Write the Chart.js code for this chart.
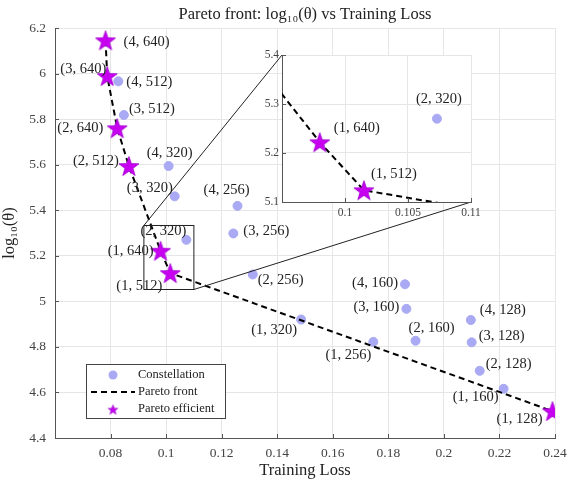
<!DOCTYPE html>
<html>
<head>
<meta charset="utf-8">
<script src="https://cdn.jsdelivr.net/npm/chart.js@4.4.1/dist/chart.umd.min.js"></script>
<style>
    html, body { margin: 0; padding: 0; background: #fff; }
    #wrap { position: relative; width: 569px; height: 481px; }
    #main { position: absolute; left: 0; top: 0; }
    #inset { position: absolute; left: 252px; top: 44px; }
</style>
</head>
<body>
<div id="wrap">
    <canvas id="main" width="569" height="481"></canvas>
    <canvas id="inset" width="230" height="178"></canvas>
</div>
<script>
// (depth, width) configurations that are not on the front
const constNames = ['(4, 512)', '(3, 512)', '(4, 320)', '(3, 320)', '(2, 320)', '(1, 320)',
    '(4, 256)', '(3, 256)', '(2, 256)', '(1, 256)', '(4, 160)', '(3, 160)', '(2, 160)',
    '(1, 160)', '(4, 128)', '(3, 128)', '(2, 128)'];
const constLoss = [0.0828, 0.0848, 0.1009, 0.1031, 0.1073, 0.1486,
    0.1257, 0.1242, 0.1312, 0.1746, 0.1860, 0.1865, 0.1898,
    0.2215, 0.2097, 0.2100, 0.2129];
const constLogTheta = [5.966, 5.818, 5.594, 5.461, 5.270, 4.920,
    5.419, 5.298, 5.118, 4.822, 5.075, 4.967, 4.827,
    4.616, 4.918, 4.820, 4.695];

// pareto efficient configurations, sorted by loss
const paretoNames = ['(4, 640)', '(3, 640)', '(2, 640)', '(2, 512)', '(1, 640)', '(1, 512)', '(1, 128)'];
const paretoLoss = [0.0782, 0.0788, 0.0824, 0.0866, 0.0980, 0.1015, 0.2391];
const paretoLogTheta = [6.146, 5.989, 5.760, 5.594, 5.222, 5.124, 4.518];

const xTicks = [0.08, 0.1, 0.12, 0.14, 0.16, 0.18, 0.2, 0.22, 0.24];
const yTicks = [4.4, 4.6, 4.8, 5, 5.2, 5.4, 5.6, 5.8, 6, 6.2];
const insetXTicks = [0.1, 0.105, 0.11];
const insetYTicks = [5.1, 5.2, 5.3, 5.4];

const FONT = "'Liberation Serif', 'DejaVu Serif', serif";
const DOT = '#a9a9f4';
const STAR = '#c800f0';

// where each label sits: anchor (l/r/c), dx, dy from its point
const mainPlace = {
    '(4, 640)': ['l', 18, 2], '(3, 640)': ['r', -1, -7], '(4, 512)': ['l', 8, 1],
    '(3, 512)': ['l', 5, -6], '(2, 640)': ['r', -14, 0], '(2, 512)': ['r', -10, -5],
    '(4, 320)': ['c', 1, -13], '(3, 320)': ['r', -2, -8], '(4, 256)': ['c', -11, -16],
    '(3, 256)': ['l', 10, -2], '(2, 320)': ['r', 0, -9], '(1, 640)': ['r', -7, 0],
    '(1, 512)': ['r', -8, 13], '(2, 256)': ['l', 5, 6], '(1, 320)': ['c', -27, 11],
    '(4, 160)': ['r', -7, -1], '(3, 160)': ['r', -7, -2], '(2, 160)': ['c', 16, -13],
    '(1, 256)': ['r', -2, 13], '(4, 128)': ['l', 9, -10], '(3, 128)': ['l', 7, -6],
    '(2, 128)': ['l', 6, -7], '(1, 160)': ['r', -5, 8], '(1, 128)': ['r', -10, 8]
};
const insetPlace = {
    '(2, 320)': ['c', 2, -20], '(1, 640)': ['l', 14, -14], '(1, 512)': ['l', 7, -16]
};

const zoomBox = { x: [0.092, 0.110], y: [5.052, 5.333] };

function makeStar(r) {
    const c = document.createElement('canvas');
    const s = Math.ceil(r * 2 + 3);
    c.width = s; c.height = s;
    const g = c.getContext('2d');
    g.beginPath();
    for (let k = 0; k < 10; k++) {
        const rad = k % 2 ? r * 0.4 : r;
        const a = -Math.PI / 2 + k * Math.PI / 5;
        g.lineTo(s / 2 + rad * Math.cos(a), s / 2 + 1 + rad * Math.sin(a));
    }
    g.closePath();
    g.fillStyle = STAR;
    g.fill();
    g.strokeStyle = '#a000d0';
    g.lineWidth = 0.8;
    g.stroke();
    return c;
}
const bigStar = makeStar(10.5);
const smallStar = makeStar(5);

function datasets() {
    const pareto = paretoLoss.map((x, i) => ({ x, y: paretoLogTheta[i] }));
    return [
        { data: pareto, names: paretoNames, pointStyle: bigStar, pointRadius: 10 },
        { data: pareto, showLine: true, borderColor: '#000', borderWidth: 2,
          borderDash: [6, 4], pointRadius: 0 },
        { data: constLoss.map((x, i) => ({ x, y: constLogTheta[i] })), names: constNames,
          pointStyle: 'circle', pointRadius: 4.5, backgroundColor: DOT, borderColor: DOT }
    ];
}

function labelPlugin(place) {
    return {
        id: 'pointLabels',
        afterDatasetsDraw(chart) {
            const ctx = chart.ctx;
            ctx.save();
            ctx.font = '14.5px ' + FONT;
            ctx.fillStyle = '#222';
            ctx.textBaseline = 'middle';
            chart.data.datasets.forEach((ds, i) => {
                if (!ds.names) return;
                chart.getDatasetMeta(i).data.forEach((pt, j) => {
                    const p = place[ds.names[j]];
                    if (!p) return;
                    ctx.textAlign = { l: 'left', r: 'right', c: 'center' }[p[0]];
                    ctx.fillText(ds.names[j], pt.x + p[1], pt.y + p[2]);
                });
            });
            ctx.restore();
        }
    };
}

// matlab style ticks pointing into the plot
const inwardTicks = {
    id: 'inwardTicks',
    afterDraw(chart) {
        const { ctx, chartArea: a, scales } = chart;
        ctx.save();
        ctx.strokeStyle = '#555';
        ctx.lineWidth = 1;
        ctx.beginPath();
        scales.x.ticks.forEach(t => {
            const px = Math.round(scales.x.getPixelForValue(t.value)) + 0.5;
            ctx.moveTo(px, a.bottom); ctx.lineTo(px, a.bottom - 4);
        });
        scales.y.ticks.forEach(t => {
            const py = Math.round(scales.y.getPixelForValue(t.value)) + 0.5;
            ctx.moveTo(a.left, py); ctx.lineTo(a.left + 4, py);
        });
        ctx.stroke();
        ctx.restore();
    }
};

function fixedTicks(list) {
    return s => { s.ticks = list.map(v => ({ value: v })); };
}

// inset first, so the main chart knows where its corners are
const insetEl = document.getElementById('inset');
const inset = new Chart(insetEl, {
    type: 'scatter',
    data: { datasets: datasets() },
    options: {
        responsive: false,
        animation: false,
        events: [],
        layout: { padding: { top: 8, right: 8, left: 0, bottom: 0 } },
        plugins: { legend: { display: false }, tooltip: { enabled: false } },
        scales: {
            x: {
                min: 0.095, max: 0.11,
                afterBuildTicks: fixedTicks(insetXTicks),
                afterFit: s => { s.height = 20; s.paddingLeft = 0; s.paddingRight = 0; },
                ticks: { callback: v => String(v), font: { family: FONT, size: 11.5 }, color: '#444', padding: 4, maxRotation: 0 },
                grid: { color: '#e6e6e6', drawTicks: false },
                border: { color: '#555' }
            },
            y: {
                min: 5.1, max: 5.4,
                afterBuildTicks: fixedTicks(insetYTicks),
                afterFit: s => { s.width = 30; s.paddingTop = 0; s.paddingBottom = 0; },
                ticks: { callback: v => String(v), font: { family: FONT, size: 11.5 }, color: '#444', padding: 3 },
                grid: { color: '#e6e6e6', drawTicks: false },
                border: { color: '#555' }
            }
        }
    },
    plugins: [{
        id: 'whiteBack',
        beforeDraw(chart) {
            const a = chart.chartArea;
            chart.ctx.fillStyle = '#fff';
            chart.ctx.fillRect(a.left, a.top, a.right - a.left, a.bottom - a.top);
        }
    }, inwardTicks, labelPlugin(insetPlace)]
});

const decorations = {
    id: 'decorations',
    afterDraw(chart) {
        const { ctx, scales: { x, y } } = chart;
        const ox = insetEl.offsetLeft, oy = insetEl.offsetTop;
        const ia = inset.chartArea;
        const x0 = x.getPixelForValue(zoomBox.x[0]), x1 = x.getPixelForValue(zoomBox.x[1]);
        const y0 = y.getPixelForValue(zoomBox.y[1]), y1 = y.getPixelForValue(zoomBox.y[0]);
        ctx.save();
        ctx.strokeStyle = '#222';
        ctx.lineWidth = 1;
        ctx.strokeRect(x0, y0, x1 - x0, y1 - y0);
        ctx.beginPath();
        ctx.moveTo(x0, y0); ctx.lineTo(ox + ia.left, oy + ia.top);
        ctx.moveTo(x1, y1); ctx.lineTo(ox + ia.right, oy + ia.bottom);
        ctx.stroke();

        // legend
        const L = 86, T = 364, R = 225, B = 418;
        ctx.fillStyle = '#fff';
        ctx.fillRect(L, T, R - L, B - T);
        ctx.strokeStyle = '#444';
        ctx.strokeRect(L + 0.5, T + 0.5, R - L, B - T);
        ctx.fillStyle = DOT;
        ctx.beginPath();
        ctx.arc(113, 375, 4.5, 0, Math.PI * 2);
        ctx.fill();
        ctx.strokeStyle = '#000';
        ctx.lineWidth = 2;
        ctx.setLineDash([6, 4]);
        ctx.beginPath();
        ctx.moveTo(91, 392); ctx.lineTo(135, 392);
        ctx.stroke();
        ctx.setLineDash([]);
        ctx.drawImage(smallStar, 113 - smallStar.width / 2, 409 - smallStar.height / 2);
        ctx.fillStyle = '#222';
        ctx.font = '12.5px ' + FONT;
        ctx.textBaseline = 'middle';
        ctx.textAlign = 'left';
        ctx.fillText('Constellation', 138, 375);
        ctx.fillText('Pareto front', 138, 392);
        ctx.fillText('Pareto efficient', 138, 409);
        ctx.restore();
    }
};

new Chart(document.getElementById('main'), {
    type: 'scatter',
    data: { datasets: datasets() },
    options: {
        responsive: false,
        animation: false,
        events: [],
        layout: { padding: { top: 0, right: 14, left: 0, bottom: 0 } },
        plugins: {
            legend: { display: false },
            tooltip: { enabled: false },
            title: {
                display: true,
                text: 'Pareto front: log\u2081\u2080(\u03b8) vs Training Loss',
                font: { family: FONT, size: 16.5, weight: 'normal' },
                color: '#222',
                padding: { top: 5, bottom: 3.2 },
                fullSize: false
            }
        },
        scales: {
            x: {
                min: 0.06, max: 0.24,
                afterBuildTicks: fixedTicks(xTicks),
                afterFit: s => { s.height = 43; s.paddingLeft = 0; s.paddingRight = 0; },
                ticks: { callback: v => String(v), font: { family: FONT, size: 13.5 }, color: '#444', padding: 7, maxRotation: 0 },
                grid: { color: '#e6e6e6', drawTicks: false },
                border: { color: '#555' },
                title: { display: true, text: 'Training Loss', font: { family: FONT, size: 16.5 }, color: '#222', padding: { top: 0, bottom: 0 } }
            },
            y: {
                min: 4.4, max: 6.2,
                afterBuildTicks: fixedTicks(yTicks),
                afterFit: s => { s.width = 55; s.paddingTop = 0; s.paddingBottom = 0; },
                ticks: { callback: v => String(v), font: { family: FONT, size: 13.5 }, color: '#444', padding: 9 },
                grid: { color: '#e6e6e6', drawTicks: false },
                border: { color: '#555' },
                title: { display: true, text: 'log\u2081\u2080(\u03b8)', font: { family: FONT, size: 16.5 }, color: '#222', padding: { top: 0, bottom: 0 } }
            }
        }
    },
    plugins: [inwardTicks, labelPlugin(mainPlace), decorations]
});
</script>
</body>
</html>
